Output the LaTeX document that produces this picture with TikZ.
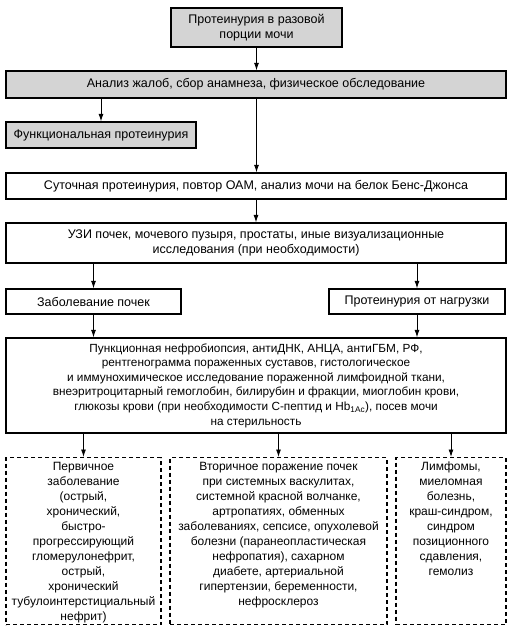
\documentclass[tikz,border=0pt]{standalone}
\usepackage{fontspec}
\setmainfont{Liberation Sans}
\usepackage{tikz}
\usetikzlibrary{arrows.meta,positioning}

\newcommand{\toptext}[2]{\parbox[t][158pt][t]{#1}{\centering #2}}

\begin{document}
\begin{tikzpicture}[x=1pt, y=-1pt,
  box/.style={draw, line width=1.2pt, align=center, inner sep=2pt, font=\fontsize{12.5}{15}\selectfont},
  grey/.style={box, fill=black!17},
  dbox/.style={draw, dash pattern=on 4pt off 3pt, line width=1.3pt, anchor=north, inner sep=2pt, minimum height=167pt, font=\fontsize{12}{15}\selectfont},
  arr/.style={-{Latex[length=7.5pt,width=5pt]}, line width=0.9pt}]
  \useasboundingbox (0,0) rectangle (531,639);
  \node[grey, minimum width=171pt, minimum height=39pt] (single) at (256.5,27.5) {Протеинурия в разовой\\порции мочи};
  \node[grey, minimum width=500pt, minimum height=27pt] (history) at (256,84.5) {Анализ жалоб, сбор анамнеза, физическое обследование};
  \node[grey, minimum width=190pt, minimum height=26pt] (functional) at (101,135) {Функциональная протеинурия};
  \node[box, minimum width=500pt, minimum height=26pt] (daily) at (256,186) {Суточная протеинурия, повтор ОАМ, анализ мочи на белок Бенс-Джонса};
  \node[box, minimum width=500pt, minimum height=40pt] (imaging) at (256,243) {УЗИ почек, мочевого пузыря, простаты, иные визуализационные\\исследования (при необходимости)};
  \node[box, minimum width=175pt, minimum height=25pt] (kidney) at (93.5,301.5) {Заболевание почек};
  \node[box, minimum width=176pt, minimum height=25pt] (load) at (417,301.5) {Протеинурия от нагрузки};
  \node[box, minimum width=500pt, minimum height=95pt, font=\fontsize{11.8}{14.6}\selectfont] (biopsy) at (256,385.5) {Пункционная нефробиопсия, антиДНК, АНЦА, антиГБМ, РФ,\\рентгенограмма пораженных суставов, гистологическое\\и иммунохимическое исследование пораженной лимфоидной ткани,\\внеэритроцитарный гемоглобин, билирубин и фракции, миоглобин крови,\\глюкозы крови (при необходимости С-пептид и Hb\textsubscript{1Ac}), посев мочи\\на стерильность};
  \node[dbox, minimum width=155pt] (primary) at (83.5,457) {\toptext{151pt}{Первичное\\заболевание\\(острый,\\хронический,\\быстро-\\прогрессирующий\\гломерулонефрит,\\острый,\\хронический\\тубулоинтерстициальный\\нефрит)}};
  \node[dbox, minimum width=217pt] (secondary) at (278.5,457) {\toptext{211pt}{Вторичное поражение почек\\при системных васкулитах,\\системной красной волчанке,\\артропатиях, обменных\\заболеваниях, сепсисе, опухолевой\\болезни (паранеопластическая\\нефропатия), сахарном\\диабете, артериальной\\гипертензии, беременности,\\нефросклероз}};
  \node[dbox, minimum width=110pt] (lymph) at (451,457) {\toptext{104pt}{Лимфомы,\\миеломная\\болезнь,\\краш-синдром,\\синдром\\позиционного\\сдавления,\\гемолиз}};
  \draw[arr] (single.south) -- (single.south |- history.north);
  \draw[arr] (functional.north |- history.south) -- (functional);
  \draw[arr] (single.south |- history.south) -- (single.south |- daily.north);
  \draw[arr] (daily) -- (imaging);
  \draw[arr] (kidney.north |- imaging.south) -- (kidney);
  \draw[arr] (load.north |- imaging.south) -- (load);
  \draw[arr] (kidney) -- (kidney |- biopsy.north);
  \draw[arr] (load) -- (load |- biopsy.north);
  \foreach \n in {primary,secondary,lymph}
    \draw[arr] (\n.north |- biopsy.south) -- (\n);
\end{tikzpicture}
\end{document}
